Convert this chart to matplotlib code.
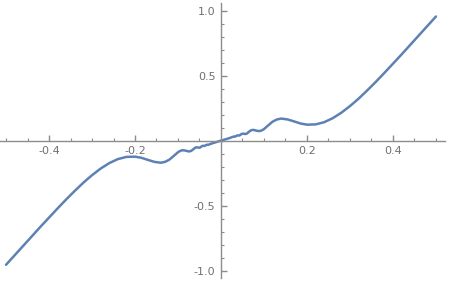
import numpy as np
import matplotlib
matplotlib.use('Agg')
from matplotlib import pyplot as plt
from matplotlib.ticker import MultipleLocator, FixedLocator
from matplotlib.patches import Rectangle

# points (left half then right half)
x_vals = [-0.50, -0.48, -0.46, -0.44, -0.42, -0.40, -0.38, -0.36, -0.34, -0.32,
          -0.31, -0.30, -0.28, -0.26, -0.24, -0.22, -0.20, -0.185, -0.17, -0.155,
          -0.14, -0.13, -0.12, -0.11, -0.10, -0.095, -0.09, -0.085, -0.08, -0.075,
          -0.07, -0.065, -0.06, -0.056, -0.052, -0.048, -0.045, -0.042, -0.039, -0.036,
          -0.033, -0.03, -0.025, -0.02, -0.015, -0.01, 0.0,
          0.01, 0.015, 0.02, 0.025, 0.03, 0.033, 0.036, 0.039, 0.042, 0.045,
          0.048, 0.052, 0.056, 0.06, 0.065, 0.07, 0.075, 0.08, 0.085, 0.09,
          0.095, 0.10, 0.11, 0.12, 0.13, 0.14, 0.155, 0.17, 0.185, 0.20,
          0.22, 0.24, 0.26, 0.28, 0.30, 0.31, 0.32, 0.34, 0.36, 0.38,
          0.40, 0.42, 0.44, 0.46, 0.48, 0.50]

y_vals = [-0.955, -0.882, -0.809, -0.736, -0.663, -0.592, -0.521, -0.452, -0.386, -0.323,
          -0.294, -0.266, -0.215, -0.173, -0.142, -0.125, -0.123, -0.132, -0.148, -0.163,
          -0.170, -0.163, -0.146, -0.118, -0.089, -0.079, -0.074, -0.075, -0.079, -0.083,
          -0.080, -0.068, -0.054, -0.051, -0.054, -0.052, -0.044, -0.039, -0.041, -0.037,
          -0.031, -0.032, -0.026, -0.020, -0.015, -0.010, 0.0,
          0.010, 0.015, 0.020, 0.026, 0.032, 0.031, 0.037, 0.041, 0.039, 0.044,
          0.052, 0.054, 0.051, 0.054, 0.068, 0.080, 0.083, 0.079, 0.075, 0.074,
          0.079, 0.089, 0.118, 0.146, 0.163, 0.170, 0.163, 0.148, 0.132, 0.123,
          0.125, 0.142, 0.173, 0.215, 0.266, 0.294, 0.323, 0.386, 0.452, 0.521,
          0.592, 0.663, 0.736, 0.809, 0.882, 0.955]

x_labels = [-0.4, -0.2, 0.2, 0.4]
y_labels = [-1.0, -0.5, 0.5, 1.0]

axis_col = '#8c8c8c'
text_col = '#707070'

fig = plt.figure(figsize=(4.51, 2.83), dpi=100)
ax = fig.add_axes([0, 0, 1, 1])

ax.plot(x_vals, y_vals, color='#5e81b5', linewidth=1.8, solid_capstyle='round',
        solid_joinstyle='round')

ax.set_xlim(-0.514, 0.535)
ax.set_ylim(-1.095, 1.082)

# axes through the origin
for s in ['top', 'right']:
    ax.spines[s].set_visible(False)
ax.spines['bottom'].set_position(('data', 0))
ax.spines['left'].set_position(('data', 0))
ax.spines['bottom'].set_bounds(-0.514, 0.52)
ax.spines['left'].set_bounds(-1.056, 1.059)
for s in ['bottom', 'left']:
    ax.spines[s].set_color(axis_col)
    ax.spines[s].set_linewidth(1.0)

ax.xaxis.set_major_locator(FixedLocator(x_labels))
ax.xaxis.set_minor_locator(MultipleLocator(0.05))
ax.yaxis.set_major_locator(FixedLocator(y_labels))
ax.yaxis.set_minor_locator(MultipleLocator(0.1))
ax.set_xticklabels(['%.1f' % v for v in x_labels])
ax.set_yticklabels(['%.1f' % v for v in y_labels])

ax.tick_params(axis='both', which='both', direction='in', color=axis_col,
               labelcolor=text_col, labelsize=8)
ax.tick_params(axis='both', which='major', length=4.5, width=1.0)
ax.tick_params(axis='both', which='minor', length=2.2, width=0.8)
ax.tick_params(axis='x', which='major', pad=4)
ax.tick_params(axis='y', which='major', pad=4)

# light strip along the bottom edge
fig.patches.append(Rectangle((0, 0), 1, 5.5 / 283, transform=fig.transFigure,
                             facecolor='#f0f0f0', edgecolor='none', zorder=-1))

plt.savefig('out.png', dpi=100)
